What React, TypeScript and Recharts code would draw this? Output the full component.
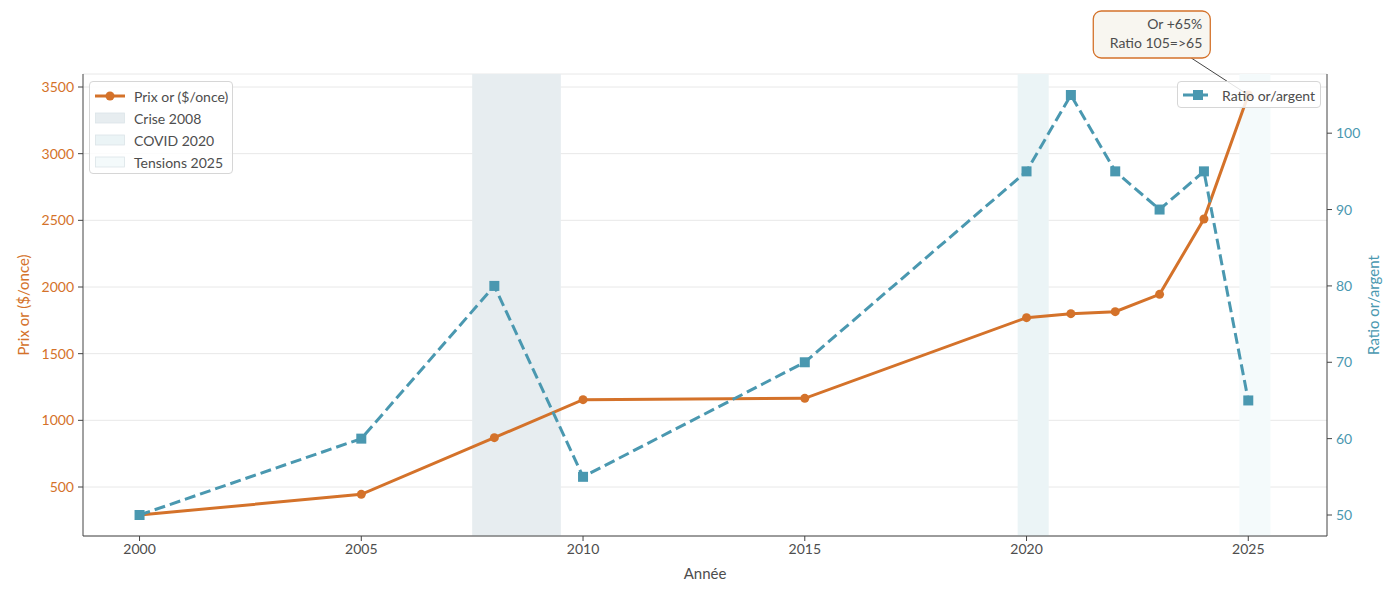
import React from 'react';
import {
  LineChart,
  Line,
  XAxis,
  YAxis,
  CartesianGrid,
  ReferenceArea,
  ReferenceDot,
} from 'recharts';

const years = [2000, 2005, 2008, 2010, 2015, 2020, 2021, 2022, 2023, 2024, 2025];
const goldPrice = [290, 445, 870, 1155, 1165, 1770, 1800, 1815, 1945, 2510, 3440];
const silverRatio = [50, 60, 80, 55, 70, 95, 105, 95, 90, 95, 65];

const xTicks = [2000, 2005, 2010, 2015, 2020, 2025];
const goldTicks = [500, 1000, 1500, 2000, 2500, 3000, 3500];
const ratioTicks = [50, 60, 70, 80, 90, 100];

const spans = [
  { label: 'Crise 2008', from: 2007.5, to: 2009.5, color: '#e7edf0' },
  { label: 'COVID 2020', from: 2019.8, to: 2020.5, color: '#ebf4f6' },
  { label: 'Tensions 2025', from: 2024.8, to: 2025.5, color: '#f4fafb' },
];

const annotationLines = ['Or +65%', 'Ratio 105=>65'];

const GOLD = '#d4722a';
const BLUE = '#4a98b0';
const TEXT = '#4d4d4d';
const FONT = 'Lato, "Noto Sans", sans-serif';

const data = years.map((year, i) => ({ year, gold: goldPrice[i], ratio: silverRatio[i] }));

// matplotlib-style 5% margins
const pad = (lo: number, hi: number): [number, number] => {
  const m = (hi - lo) * 0.05;
  return [lo - m, hi + m];
};
const xDomain = pad(Math.min(...years), Math.max(...spans.map((s) => s.to)));
const goldDomain = pad(Math.min(...goldPrice), Math.max(...goldPrice));
const ratioDomain = pad(Math.min(...silverRatio), Math.max(...silverRatio));

// eslint-disable-next-line @typescript-eslint/no-explicit-any
const SquareDot = (props: any) => {
  const { cx, cy } = props;
  if (cx == null || cy == null) return null;
  return <rect x={cx - 5} y={cy - 5} width={10} height={10} fill={BLUE} />;
};

// eslint-disable-next-line @typescript-eslint/no-explicit-any
const Annotation = (props: any) => {
  const { cx, cy } = props;
  if (cx == null || cy == null) return null;
  const bx = cx - 155;
  const by = cy - 84;
  return (
    <g>
      <line x1={cx - 57} y1={cy - 37} x2={cx} y2={cy} stroke="#444" strokeWidth={1} />
      <rect x={bx} y={by} width={117} height={47} rx={8} fill="#f8f6f0" stroke={GOLD} strokeWidth={1.3} />
      {annotationLines.map((t, i) => (
        <text
          key={t}
          x={bx + 109}
          y={by + 18 + i * 19}
          textAnchor="end"
          fontSize={14}
          fill={TEXT}
          fontFamily={FONT}
        >
          {t}
        </text>
      ))}
    </g>
  );
};

const legendBox: React.CSSProperties = {
  position: 'absolute',
  background: 'rgba(255,255,255,0.85)',
  border: '1px solid #d6d6d6',
  borderRadius: 4,
  fontFamily: FONT,
  fontSize: 14,
  color: TEXT,
  boxSizing: 'border-box',
};

const row: React.CSSProperties = {
  display: 'flex',
  alignItems: 'center',
  height: 22,
};

export default function App() {
  const tickStyle = { fontSize: 14, fontFamily: FONT };
  return (
    <div style={{ position: 'absolute', left: 0, top: 0, width: 1400, height: 600, background: '#fff' }}>
      <LineChart
        width={1400}
        height={600}
        data={data}
        margin={{ top: 74, right: 13, bottom: 0, left: 23 }}
        style={{ fontFamily: FONT }}
      >
        <CartesianGrid yAxisId="left" vertical={false} stroke="#e8e8e8" />
        <XAxis
          dataKey="year"
          type="number"
          domain={xDomain}
          ticks={xTicks}
          allowDataOverflow
          height={64}
          tickSize={5}
          tickMargin={3}
          tick={{ ...tickStyle, fill: TEXT }}
          tickLine={{ stroke: '#444' }}
          axisLine={{ stroke: '#444' }}
          label={{ value: 'Année', position: 'insideBottom', offset: 21, fill: TEXT, fontSize: 15, fontFamily: FONT }}
        />
        <XAxis
          xAxisId="top"
          orientation="top"
          dataKey="year"
          type="number"
          domain={xDomain}
          allowDataOverflow
          height={0}
          tick={false}
          tickLine={false}
          axisLine={{ stroke: '#444' }}
        />
        <YAxis
          yAxisId="left"
          domain={goldDomain}
          ticks={goldTicks}
          allowDataOverflow
          width={60}
          tickSize={5}
          tickMargin={4}
          tick={{ ...tickStyle, fill: GOLD }}
          tickLine={{ stroke: '#444' }}
          axisLine={{ stroke: '#444' }}
          label={{
            value: 'Prix or ($/once)',
            angle: -90,
            position: 'insideLeft',
            offset: 1,
            fill: GOLD,
            fontSize: 15,
            fontFamily: FONT,
            style: { textAnchor: 'middle' },
          }}
        />
        <YAxis
          yAxisId="right"
          orientation="right"
          domain={ratioDomain}
          ticks={ratioTicks}
          allowDataOverflow
          width={60}
          tickSize={5}
          tickMargin={4}
          tick={{ ...tickStyle, fill: BLUE }}
          tickLine={{ stroke: '#444' }}
          axisLine={{ stroke: '#444' }}
          label={{
            value: 'Ratio or/argent',
            angle: -90,
            position: 'insideRight',
            offset: 13,
            fill: BLUE,
            fontSize: 15,
            fontFamily: FONT,
            style: { textAnchor: 'middle' },
          }}
        />
        {spans.map((s) => (
          <ReferenceArea
            key={s.label}
            yAxisId="left"
            x1={s.from}
            x2={s.to}
            fill={s.color}
            fillOpacity={1}
            stroke="none"
            ifOverflow="visible"
          />
        ))}
        <Line
          yAxisId="left"
          dataKey="gold"
          type="linear"
          stroke={GOLD}
          strokeWidth={3}
          dot={{ r: 4.5, fill: GOLD, stroke: GOLD, strokeWidth: 0 }}
          isAnimationActive={false}
        />
        <Line
          yAxisId="right"
          dataKey="ratio"
          type="linear"
          stroke={BLUE}
          strokeWidth={3}
          strokeDasharray="11 5"
          dot={<SquareDot />}
          isAnimationActive={false}
        />
        <ReferenceDot
          yAxisId="left"
          x={years[years.length - 1]}
          y={goldPrice[goldPrice.length - 1]}
          ifOverflow="visible"
          shape={<Annotation />}
        />
      </LineChart>

      <div style={{ ...legendBox, left: 89, top: 81, width: 144, height: 93, padding: '3px 0 0 5px' }}>
        <div style={row}>
          <svg width={30} height={12} style={{ marginRight: 9 }}>
            <line x1={0} y1={6} x2={30} y2={6} stroke={GOLD} strokeWidth={3} />
            <circle cx={15} cy={6} r={4.5} fill={GOLD} />
          </svg>
          Prix or ($/once)
        </div>
        {spans.map((s) => (
          <div key={s.label} style={row}>
            <svg width={30} height={12} style={{ marginRight: 9 }}>
              <rect x={0.5} y={1} width={29} height={10} fill={s.color} stroke="#dbe4e8" strokeWidth={0.8} />
            </svg>
            {s.label}
          </div>
        ))}
      </div>

      <div style={{ ...legendBox, left: 1177, top: 81, width: 144, height: 27, padding: '2px 0 0 5px' }}>
        <div style={row}>
          <svg width={30} height={12} style={{ marginRight: 9 }}>
            <line x1={0} y1={6} x2={30} y2={6} stroke={BLUE} strokeWidth={3} strokeDasharray="10 5" />
            <rect x={10} y={1} width={10} height={10} fill={BLUE} />
          </svg>
          Ratio or/argent
        </div>
      </div>
    </div>
  );
}
